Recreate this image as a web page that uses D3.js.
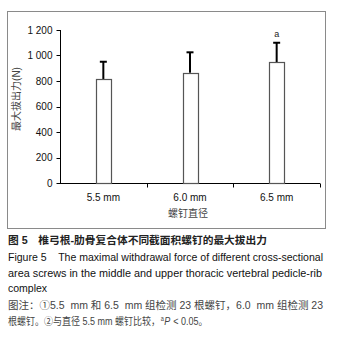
<!DOCTYPE html>
<html>
<head>
<meta charset="utf-8">
<script src="https://cdn.jsdelivr.net/npm/d3@7"></script>
<style>
  body { margin: 0; background: #fff; }
  svg { display: block; font-family: "Liberation Sans", Arial, "Noto Sans CJK SC", sans-serif; }
  text { white-space: pre; }
</style>
</head>
<body>
<svg id="chart" width="337" height="338"></svg>
<script>
// data
var categories = ["5.5 mm", "6.0 mm", "6.5 mm"];
var means = [813, 865, 946];
var sds = [138, 160, 154];
var marks = ["", "", "a"];
var yTicks = [0, 200, 400, 600, 800, 1000, 1200];

var svg = d3.select("#chart");

// outer frame
svg.append("rect")
  .attr("x", 7.5).attr("y", 11.5)
  .attr("width", 318).attr("height", 217)
  .attr("fill", "none")
  .attr("stroke", "#8a8a8a");

var y = d3.scaleLinear().domain([0, 1200]).range([183, 30]);
var x = d3.scaleBand().domain(categories).range([60, 320]);

// y axis
var yAxis = svg.append("g").attr("transform", "translate(60.5,0)");
yAxis.append("line")
  .attr("y1", y(1200)).attr("y2", y(0))
  .attr("stroke", "#000");
yAxis.selectAll(".tk").data(yTicks).enter().append("line")
  .attr("x1", -4).attr("x2", 0)
  .attr("y1", d => Math.round(y(d)) + 0.5).attr("y2", d => Math.round(y(d)) + 0.5)
  .attr("stroke", "#000");
yAxis.selectAll("text").data(yTicks).enter().append("text")
  .attr("x", -8)
  .attr("y", d => y(d) + 3.5)
  .attr("text-anchor", "end")
  .attr("font-size", 10)
  .attr("fill", "#111")
  .text(d => d >= 1000 ? Math.floor(d / 1000) + " " + d3.format("03d")(d % 1000) : d);

// x axis
var xAxis = svg.append("g").attr("transform", "translate(0," + (Math.round(y(0)) + 0.5) + ")");
xAxis.append("line")
  .attr("x1", 60).attr("x2", 320)
  .attr("stroke", "#000");
xAxis.selectAll(".tk").data(categories).enter().append("line")
  .attr("x1", d => Math.round(x(d) + x.bandwidth()) + 0.5)
  .attr("x2", d => Math.round(x(d) + x.bandwidth()) + 0.5)
  .attr("y1", 0).attr("y2", 4)
  .attr("stroke", "#000");
xAxis.selectAll("text").data(categories).enter().append("text")
  .attr("x", d => x(d) + x.bandwidth() / 2)
  .attr("y", 17)
  .attr("text-anchor", "middle")
  .attr("font-size", 10)
  .attr("fill", "#111")
  .text(d => d);

svg.append("text")
  .attr("x", 188).attr("y", 217)
  .attr("text-anchor", "middle")
  .attr("font-size", 10)
  .attr("fill", "#444")
  .text("螺钉直径");

svg.append("text")
  .attr("transform", "translate(20,99) rotate(-90)")
  .attr("text-anchor", "middle")
  .attr("font-size", 10)
  .attr("fill", "#444")
  .text("最大拔出力(N)");

// bars, error bars
var bw = x.bandwidth() * 0.17;
var bars = svg.append("g");
categories.forEach(function(c, i) {
  var cx = x(c) + x.bandwidth() / 2;
  bars.append("line")
    .attr("x1", cx).attr("x2", cx)
    .attr("y1", y(means[i])).attr("y2", y(means[i] + sds[i]))
    .attr("stroke", "#000").attr("stroke-width", 2);
  bars.append("line")
    .attr("x1", cx - 3.5).attr("x2", cx + 3.5)
    .attr("y1", y(means[i] + sds[i])).attr("y2", y(means[i] + sds[i]))
    .attr("stroke", "#000").attr("stroke-width", 2);
  bars.append("rect")
    .attr("x", Math.round(cx - bw / 2) + 0.5)
    .attr("y", Math.round(y(means[i])) + 0.5)
    .attr("width", Math.round(bw))
    .attr("height", Math.round(y(0)) - Math.round(y(means[i])))
    .attr("fill", "#fff")
    .attr("stroke", "#555").attr("stroke-width", 1.2);
  if (marks[i]) {
    bars.append("text")
      .attr("x", cx).attr("y", y(means[i] + sds[i]) - 6)
      .attr("text-anchor", "middle")
      .attr("font-size", 9)
      .attr("fill", "#222")
      .text(marks[i]);
  }
});

// caption
var cap = svg.append("g").attr("font-size", 10.5);
cap.append("text")
  .attr("x", 8).attr("y", 244)
  .attr("textLength", 259).attr("lengthAdjust", "spacingAndGlyphs")
  .attr("fill", "#222").attr("font-weight", "bold")
  .text("图 5　椎弓根-肋骨复合体不同截面积螺钉的最大拔出力");
cap.append("text")
  .attr("x", 8).attr("y", 261)
  .attr("textLength", 315).attr("lengthAdjust", "spacingAndGlyphs")
  .attr("fill", "#111")
  .text("Figure 5    The maximal withdrawal force of different cross-sectional");
cap.append("text")
  .attr("x", 8).attr("y", 277)
  .attr("textLength", 314).attr("lengthAdjust", "spacingAndGlyphs")
  .attr("fill", "#111")
  .text("area screws in the middle and upper thoracic vertebral pedicle-rib");
cap.append("text")
  .attr("x", 8).attr("y", 292)
  .attr("fill", "#111")
  .text("complex");
cap.append("text")
  .attr("x", 8).attr("y", 309)
  .attr("textLength", 315).attr("lengthAdjust", "spacingAndGlyphs")
  .attr("fill", "#444")
  .text("图注：①5.5  mm 和 6.5  mm 组检测 23 根螺钉，6.0  mm 组检测 23");

// last line in pieces so the superscript sits cleanly, squeezed to the reference width
var pieces = [
  { t: "根螺钉。②与直径 5.5 mm 螺钉比较，", size: 10.5, dy: 0, style: "normal" },
  { t: "a", size: 6.5, dy: -4, style: "normal" },
  { t: "P", size: 10.5, dy: 0, style: "italic" },
  { t: " < 0.05。", size: 10.5, dy: 0, style: "normal" }
];
var lastG = cap.append("g");
var px = 0;
pieces.forEach(function(p) {
  var t = lastG.append("text")
    .attr("x", px).attr("y", 0 + p.dy)
    .attr("font-size", p.size)
    .attr("font-style", p.style)
    .attr("fill", "#444")
    .text(p.t);
  px += t.node().getComputedTextLength() + 0.5;
});
var sx = 200 / px;
lastG.attr("transform", "translate(8,325) scale(" + sx + ",1)");
</script>
</body>
</html>
